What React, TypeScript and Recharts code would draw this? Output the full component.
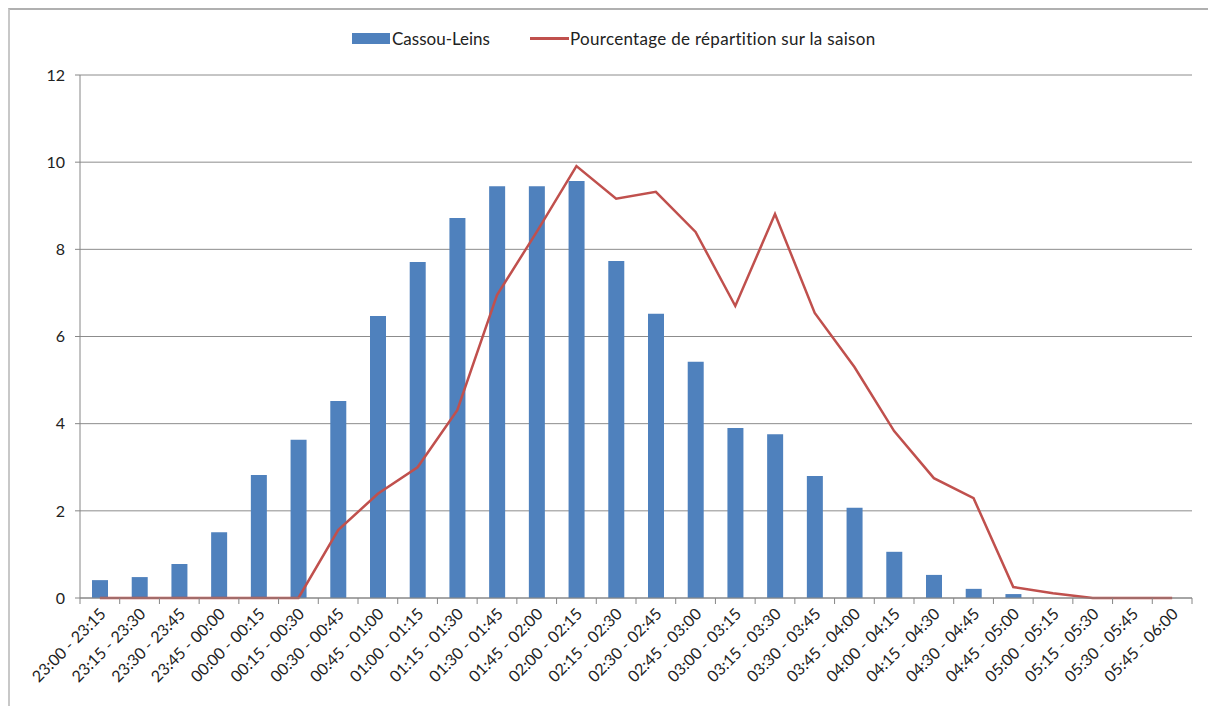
import { ComposedChart, Bar, Line, XAxis, YAxis, CartesianGrid } from "recharts";

const categories = [
  "23:00 - 23:15", "23:15 - 23:30", "23:30 - 23:45", "23:45 - 00:00",
  "00:00 - 00:15", "00:15 - 00:30", "00:30 - 00:45", "00:45 - 01:00",
  "01:00 - 01:15", "01:15 - 01:30", "01:30 - 01:45", "01:45 - 02:00",
  "02:00 - 02:15", "02:15 - 02:30", "02:30 - 02:45", "02:45 - 03:00",
  "03:00 - 03:15", "03:15 - 03:30", "03:30 - 03:45", "03:45 - 04:00",
  "04:00 - 04:15", "04:15 - 04:30", "04:30 - 04:45", "04:45 - 05:00",
  "05:00 - 05:15", "05:15 - 05:30", "05:30 - 05:45", "05:45 - 06:00",
];

// Cassou-Leins (bars)
const cassouLeins = [
  0.41, 0.48, 0.78, 1.51, 2.82, 3.63, 4.52, 6.47, 7.71, 8.72, 9.45, 9.45,
  9.57, 7.73, 6.52, 5.42, 3.9, 3.76, 2.8, 2.07, 1.06, 0.53, 0.21, 0.09,
  0, 0, 0, 0,
];

// Pourcentage de répartition sur la saison (line)
const repartition = [
  0, 0, 0, 0, 0, 0, 1.56, 2.39, 3.0, 4.31, 6.95, 8.4, 9.91, 9.16, 9.32,
  8.4, 6.7, 8.81, 6.54, 5.3, 3.83, 2.75, 2.29, 0.25, 0.11, 0, 0, 0,
];

const yTicks = [0, 2, 4, 6, 8, 10, 12];

const data = categories.map((c, i) => ({
  cat: c,
  cassou: cassouLeins[i],
  pct: repartition[i],
}));

const BLUE = "#4F81BD";
const RED = "#C0504D";
const FONT = "Lato, 'Open Sans', sans-serif";

const W = 1208;
const H = 706;
const LEFT = 80;
const RIGHT = 16;
const band = (W - LEFT - RIGHT) / categories.length;

const XTick = (props: any) => {
  const { x, y, payload, index } = props;
  return (
    <g>
      <line x1={x + band / 2} x2={x + band / 2} y1={y - 8} y2={y - 2} stroke="#868686" />
      {index === 0 && (
        <line x1={x - band / 2} x2={x - band / 2} y1={y - 8} y2={y - 2} stroke="#868686" />
      )}
      <text
        x={x + 7}
        y={y + 9}
        textAnchor="end"
        fontSize={16}
        fill="#222"
        fontFamily={FONT}
        transform={`rotate(-45, ${x + 7}, ${y + 9})`}
      >
        {payload.value}
      </text>
    </g>
  );
};

export default function App() {
  return (
    <div style={{ position: "absolute", left: 0, top: 0, width: W, height: H, background: "#fff" }}>
      <div
        style={{
          position: "absolute",
          left: 8,
          top: 8,
          right: 0,
          bottom: 0,
          borderLeft: "2px solid #c8c8c8",
          borderTop: "2px solid #b0b0b0",
        }}
      />
      <div
        style={{
          position: "absolute",
          left: 352,
          top: 28,
          display: "flex",
          alignItems: "center",
          fontFamily: FONT,
          fontSize: 17,
          color: "#222",
          whiteSpace: "nowrap",
        }}
      >
        <span style={{ display: "inline-block", width: 38, height: 11, background: BLUE, marginRight: 2 }} />
        <span style={{ marginRight: 40 }}>Cassou-Leins</span>
        <span style={{ display: "inline-block", width: 39, height: 3, background: RED, marginRight: 1 }} />
        <span style={{ letterSpacing: 0.3 }}>Pourcentage de répartition sur la saison</span>
      </div>
      <ComposedChart
        width={W}
        height={H}
        data={data}
        margin={{ top: 75, right: RIGHT, left: 0, bottom: 0 }}
        style={{ position: "absolute", left: 0, top: 0 }}
      >
        <CartesianGrid vertical={false} stroke="#8c8c8c" strokeWidth={1} />
        <XAxis
          dataKey="cat"
          interval={0}
          height={108}
          tick={<XTick />}
          tickLine={false}
          axisLine={{ stroke: "#868686" }}
        />
        <YAxis
          width={LEFT}
          domain={[0, 12]}
          ticks={yTicks}
          interval={0}
          tick={{ fontSize: 16, fill: "#222", fontFamily: FONT }}
          tickLine={{ stroke: "#868686" }}
          tickSize={5}
          tickMargin={10}
          axisLine={{ stroke: "#868686" }}
        />
        <Bar dataKey="cassou" fill={BLUE} barSize={16} isAnimationActive={false} />
        <Line
          dataKey="pct"
          type="linear"
          stroke={RED}
          strokeWidth={2.5}
          dot={false}
          activeDot={false}
          isAnimationActive={false}
        />
      </ComposedChart>
    </div>
  );
}
